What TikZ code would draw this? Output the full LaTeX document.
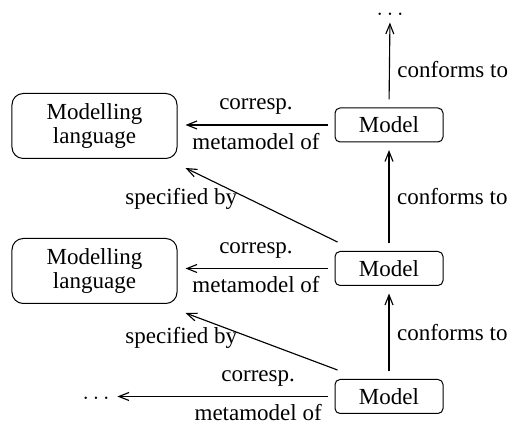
\documentclass[tikz,border=0pt]{standalone}
\usepackage{fontspec}
\setmainfont{Liberation Serif}
\usetikzlibrary{arrows.meta}
\begin{document}
\begin{tikzpicture}[x=0.4pt,y=-0.4pt,
  font=\fontsize{9.2}{11}\selectfont,
  model/.style={draw,rounded corners=2pt,minimum width=43.2pt,minimum height=13.6pt,inner sep=0pt},
  lang/.style={draw,rounded corners=4.5pt,minimum width=66pt,minimum height=26pt,inner sep=0pt,align=center},
  arr/.style={-{Straight Barb[length=4pt,width=3.2pt,line width=0.45pt]},line width=0.45pt},
  lbl/.style={inner sep=1pt},
  spec/.style={inner sep=0pt,anchor=north east,pos=0.64,yshift=2.6pt,xshift=-1pt}]
\useasboundingbox (0,0) rectangle (512,424);

% the models of the tower
\node[model] (m1) at (389,125) {Model};
\node[model] (m2) at (389,268.5) {Model};
\node[model] (m3) at (389,396.5) {Model};

% modelling languages
\node[lang] (ml1) at (94.5,126) {Modelling\\[-1.4pt]language};
\node[lang] (ml2) at (94.5,271) {Modelling\\[-1.4pt]language};

% open ends of the chains
\node[inner sep=0pt,anchor=base] (td) at (390,16) {$\ldots$};
\node[inner sep=0pt,anchor=base] (bd) at (96,400) {$\ldots$};

% conformance
\draw[arr,shorten <=3.2pt,shorten >=2.4pt] (m1.north) -- node[lbl,pos=0.42,right=2pt] (c1) {conforms to} (td.south);
\draw[arr,shorten <=3pt,shorten >=3pt] (m2.north) -- node[lbl,right=2pt] (c2) {conforms to} (m1.south);
\draw[arr,shorten <=3pt,shorten >=3pt] (m3.north) -- node[lbl,right=2pt] (c3) {conforms to} (m2.south);

% corresponding metamodels
\draw[arr,shorten <=2.8pt,shorten >=3.2pt] (m1.west) -- node[lbl,above=3pt] (r1) {corresp.} node[lbl,below=2pt] (s1) {metamodel of} (m1.west -| ml1.east);
\draw[arr,shorten <=2.8pt,shorten >=3.2pt] (m2.west) -- node[lbl,above=3pt] (r2) {corresp.} node[lbl,below=2pt] (s2) {metamodel of} (m2.west -| ml2.east);
\draw[arr,shorten <=2.8pt,shorten >=3pt] (m3.west) -- node[lbl,pos=0.34,above=3pt] (r3) {corresp.} node[lbl,pos=0.34,below=2pt] (s3) {metamodel of} (m3.west -| bd.east);

% specification
\draw[arr] ([shift={(3,-9)}]m2.north west) -- node[spec] (p1) {specified by} ([shift={(8,9)}]ml1.south east);
\draw[arr] ([shift={(3,-9)}]m3.north west) -- node[spec] (p2) {specified by} ([shift={(8,9)}]ml2.south east);
\end{tikzpicture}
\end{document}
